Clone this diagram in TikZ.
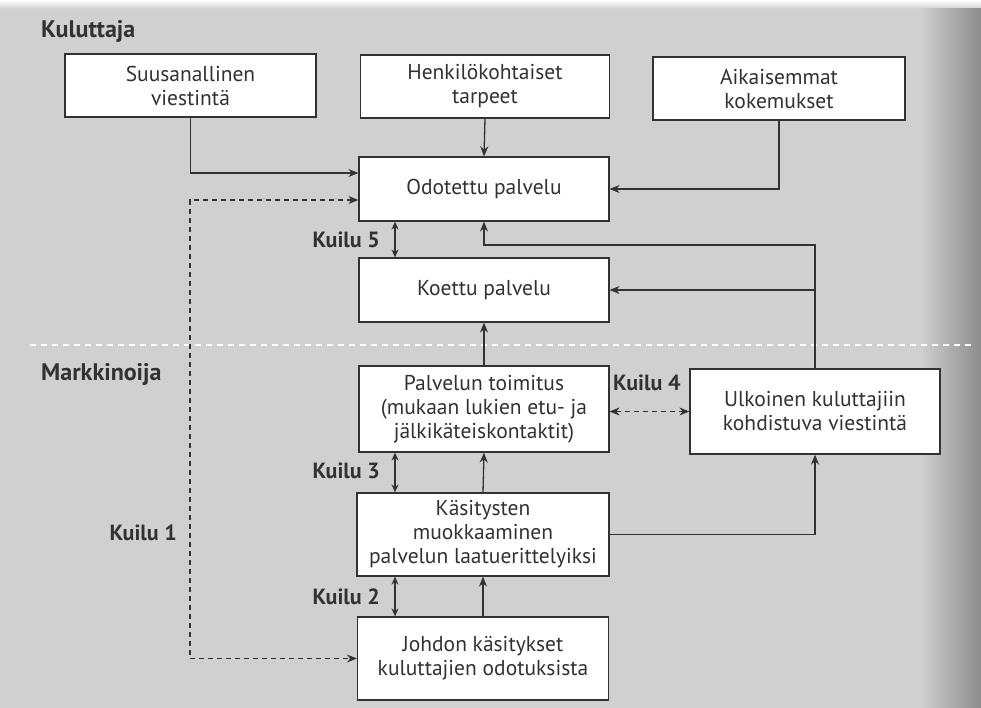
\documentclass[tikz,border=0pt]{standalone}
\usepackage{fontspec}
\setmainfont{PT Sans}
\usetikzlibrary{arrows.meta,calc}
\definecolor{bgc}{RGB}{208,208,208}
\definecolor{edge}{RGB}{140,140,140}
\definecolor{ink}{RGB}{50,50,50}
\begin{document}
\begin{tikzpicture}[x=1pt,y=-1pt,
  box/.style={draw=ink,line width=1.2pt,fill=white,text=ink,align=center,
    font=\fontsize{21.5}{24}\selectfont,inner sep=0pt},
  lab/.style={text=ink,font=\fontsize{22}{26}\selectfont\bfseries,inner sep=0pt},
  sec/.style={text=ink,font=\fontsize{24}{28}\selectfont\bfseries,inner sep=0pt},
  conn/.style={draw=ink,line width=1.3pt,-{Stealth[length=10pt,width=8pt]}},
  dconn/.style={conn,dash pattern=on 5pt off 4pt},
  gap/.style={draw=ink,line width=1.3pt,{Stealth[length=8pt,width=7pt]}-{Stealth[length=8pt,width=7pt]}}]
% background
\useasboundingbox (0,0) rectangle (981,708);
\fill[bgc] (0,0) rectangle (981,708);
\shade[top color=white,bottom color=bgc] (0,0) rectangle (981,9);
\shade[left color=bgc,right color=edge] (920,9) rectangle (981,708);
% section labels
\node[sec,anchor=west] (kul) at (41,31) {Kuluttaja};
\node[sec,anchor=west] (mar) at (41,374) {Markkinoija};
% dividing line
\draw[white,line width=2.5pt,dash pattern=on 6pt off 5pt] (30,345) -- (975,345);
% boxes
\node[box,minimum width=251pt,minimum height=63pt] (suu) at (190.5,85.5) {Suusanallinen\\viestintä};
\node[box,minimum width=249pt,minimum height=63pt] (hen) at (485,86.5) {Henkilökohtaiset\\tarpeet};
\node[box,minimum width=252pt,minimum height=63pt] (aik) at (779,88.5) {Aikaisemmat\\kokemukset};
\node[box,minimum width=250pt,minimum height=64pt] (odo) at (484,189) {Odotettu palvelu};
\node[box,minimum width=250pt,minimum height=64pt] (koe) at (484,290) {Koettu palvelu};
\node[box,minimum width=250pt,minimum height=86pt] (pal) at (484,409) {Palvelun toimitus\\(mukaan lukien etu- ja\\jälkikäteiskontaktit)};
\node[box,minimum width=250pt,minimum height=85pt] (ulk) at (815,411.5) {Ulkoinen kuluttajiin\\kohdistuva viestintä};
\node[box,minimum width=252pt,minimum height=83pt] (kas) at (483,534.5) {Käsitysten\\muokkaaminen\\palvelun laatuerittelyiksi};
\node[box,minimum width=251pt,minimum height=83pt] (joh) at (483,658.5) {Johdon käsitykset\\kuluttajien odotuksista};
% gap labels
\node[lab,anchor=east] (k5) at (380,240) {Kuilu 5};
\node[lab,anchor=east] (k3) at (380,471) {Kuilu 3};
\node[lab,anchor=east] (k2) at (380,597) {Kuilu 2};
\node[lab,anchor=east] (k1) at (177,533) {Kuilu 1};
\node[lab,anchor=west] (k4) at (613,383) {Kuilu 4};
% helper coordinates
\coordinate (gx) at (395,0);
\coordinate (dx) at (190,0);
\coordinate (ty) at (0,245);
% connectors
\draw[conn] (suu.south) |- ([yshift=16pt]odo.west);
\draw[conn] (hen.south) -- (odo.north);
\draw[conn] (aik.south) |- (odo.east);
\draw[dconn,{Stealth[length=10pt,width=8pt]}-{Stealth[length=10pt,width=8pt]}] ([yshift=-11pt]odo.west) -| (joh.west -| dx) -- (joh.west);
\draw[conn] (ulk.north) |- (odo.south |- ty) -- (odo.south);
\draw[conn] (ulk.north |- koe.east) -- (koe.east);
\draw[conn] (pal.north) -- (koe.south);
\draw[conn] (kas.north) -- (pal.south);
\draw[conn] (joh.north) -- (kas.south);
\draw[conn] (kas.east) -| (ulk.south);
\draw[dconn,{Stealth[length=10pt,width=8pt]}-{Stealth[length=10pt,width=8pt]}] (ulk.west -| pal.east) -- (ulk.west);
\draw[gap] (odo.south -| gx) -- (koe.north -| gx);
\draw[gap] (pal.south -| gx) -- (kas.north -| gx);
\draw[gap] (kas.south -| gx) -- (joh.north -| gx);
\end{tikzpicture}
\end{document}
